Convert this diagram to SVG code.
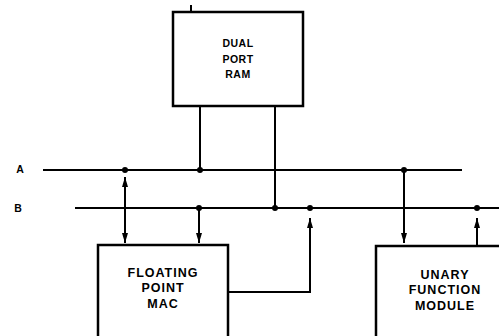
<svg xmlns="http://www.w3.org/2000/svg" width="499" height="336" viewBox="0 0 499 336">
<style>
.box{fill:#fff;stroke:#000;stroke-width:2.5}
.ln{fill:none;stroke:#000;stroke-width:2}
.dot{fill:#000}
.t{font-family:"Liberation Sans",Arial,sans-serif;font-weight:bold;font-size:12.5px;letter-spacing:1px;text-anchor:middle;fill:#000}
.ts{font-family:"Liberation Sans",Arial,sans-serif;font-weight:bold;font-size:10.5px;letter-spacing:0.5px;text-anchor:middle;fill:#000}
.lbl{font-family:"Liberation Sans",Arial,sans-serif;font-weight:bold;font-size:10.5px;text-anchor:middle;fill:#000}
</style>
<defs>
<marker id="ah" markerUnits="userSpaceOnUse" markerWidth="10" markerHeight="6" refX="10" refY="3" orient="auto" viewBox="0 0 10 6">
<path d="M0,0 L10,3 L0,6 Z" fill="#000"/>
</marker>
</defs>
<rect width="499" height="336" fill="#fff"/>
<g id="connectors">
<path class="ln" d="M43,170 H462"/>
<path class="ln" d="M75,208 H499"/>
<path class="ln" d="M191,5 V12"/>
<path class="ln" d="M200,106 V170"/>
<path class="ln" d="M275,106 V208"/>
<path class="ln" d="M125,200 V177" marker-end="url(#ah)"/>
<path class="ln" d="M125,200 V243" marker-end="url(#ah)"/>
<path class="ln" d="M199,208 V243" marker-end="url(#ah)"/>
<path class="ln" d="M228,292 H310 V218" marker-end="url(#ah)"/>
<path class="ln" d="M404,170 V243" marker-end="url(#ah)"/>
<path class="ln" d="M477,246 V218" marker-end="url(#ah)"/>
<circle class="dot" cx="125" cy="170" r="3"/>
<circle class="dot" cx="200" cy="170" r="3"/>
<circle class="dot" cx="404" cy="170" r="3"/>
<circle class="dot" cx="199" cy="208" r="3"/>
<circle class="dot" cx="275" cy="208" r="3"/>
<circle class="dot" cx="310" cy="208" r="3"/>
<circle class="dot" cx="477" cy="208" r="3"/>
</g>
<g id="labels">
<text class="lbl" x="20" y="173">A</text>
<text class="lbl" x="18" y="212">B</text>
</g>
<g id="ram">
<rect class="box" x="173" y="12" width="130" height="94"/>
<text class="ts" x="238" y="47">DUAL</text>
<text class="ts" x="238" y="63">PORT</text>
<text class="ts" x="238" y="78">RAM</text>
</g>
<g id="fpmac">
<rect class="box" x="98" y="245" width="130" height="110"/>
<text class="t" x="163" y="277">FLOATING</text>
<text class="t" x="163" y="292">POINT</text>
<text class="t" x="163" y="308">MAC</text>
</g>
<g id="ufm">
<rect class="box" x="376" y="246" width="140" height="110"/>
<text class="t" x="445" y="279">UNARY</text>
<text class="t" x="445" y="294">FUNCTION</text>
<text class="t" x="445" y="310">MODULE</text>
</g>
</svg>
